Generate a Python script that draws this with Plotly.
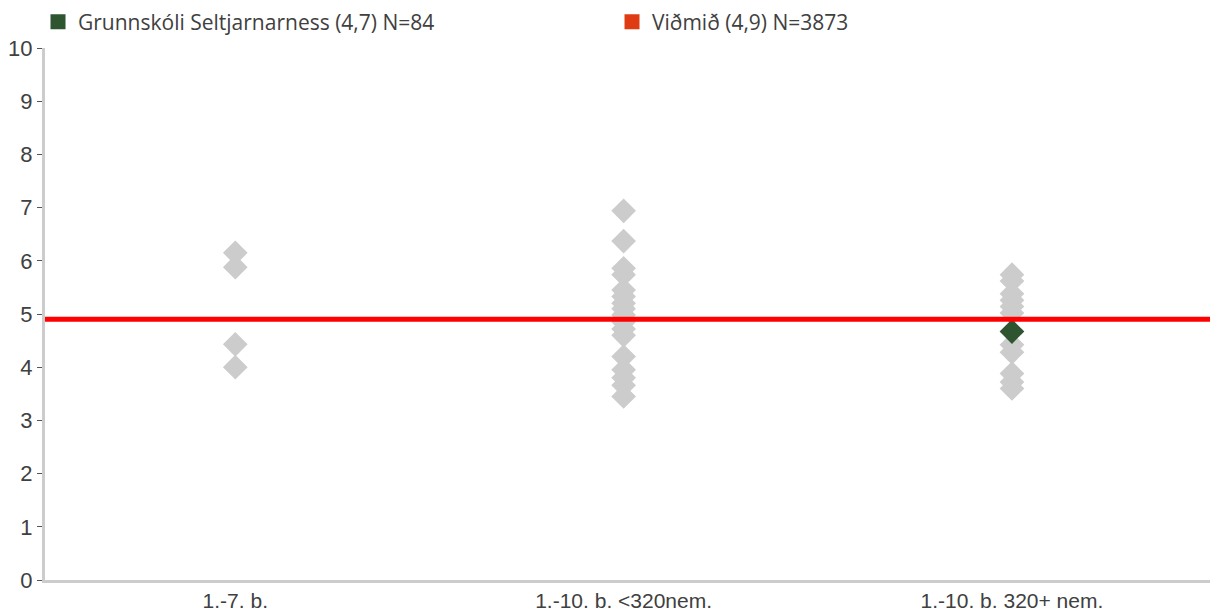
import plotly.graph_objects as go

categories = ["1.-7. b.", "1.-10. b. <320nem.", "1.-10. b. 320+ nem."]
values_cat1 = [6.15, 5.88, 4.43, 4.0]
values_cat2 = [6.94, 6.37, 5.86, 5.74, 5.45, 5.33, 5.2, 5.1, 4.98, 4.85, 4.72, 4.6, 4.2, 3.95, 3.8, 3.66, 3.45]
values_cat3 = [5.74, 5.62, 5.38, 5.26, 5.14, 5.02, 4.42, 4.28, 3.88, 3.72, 3.6]
school_name = "Grunnskóli Seltjarnarness (4,7) N=84"
school_category = "1.-10. b. 320+ nem."
school_value = 4.67
benchmark_name = "Viðmið (4,9) N=3873"
benchmark_value = 4.9
yticks = [0, 1, 2, 3, 4, 5, 6, 7, 8, 9, 10]

grey_x = []
grey_y = []
for cat, vals in zip(categories, [values_cat1, values_cat2, values_cat3]):
    grey_x += [cat] * len(vals)
    grey_y += vals

fig = go.Figure()
fig.add_trace(go.Scatter(
    x=grey_x, y=grey_y, mode="markers", showlegend=False,
    marker=dict(symbol="diamond", size=19, color="#cccccc", line=dict(width=0)),
))
fig.add_trace(go.Scatter(
    x=[school_category], y=[school_value], mode="markers", showlegend=False,
    marker=dict(symbol="diamond", size=19, color="#2e5430", line=dict(width=0)),
))
# legend dummies
fig.add_trace(go.Scatter(
    x=[None], y=[None], mode="markers", name=school_name,
    marker=dict(symbol="square", size=15, color="#2e5430"),
))
fig.add_trace(go.Scatter(
    x=[None], y=[None], mode="markers", name=benchmark_name,
    marker=dict(symbol="square", size=15, color="#e03c14"),
))

fig.add_shape(type="line", xref="paper", x0=0, x1=1, yref="y",
              y0=benchmark_value, y1=benchmark_value,
              line=dict(color="#ff0000", width=5))

# page body has an 8px default margin, so the figure is sized to fit the window
fig.update_layout(
    width=1210, height=604,
    margin=dict(l=37, r=8, t=40, b=32, autoexpand=False),
    paper_bgcolor="white", plot_bgcolor="white",
    font=dict(family="Open Sans, Liberation Sans", color="#404040"),
    legend=dict(
        orientation="h", xref="container", yref="paper",
        x=0.0248, y=1.087, xanchor="left", yanchor="top",
        font=dict(family="Open Sans, Liberation Sans", size=21, color="#404040"),
        entrywidth=529, entrywidthmode="pixels",
        itemsizing="trace", bgcolor="rgba(0,0,0,0)",
    ),
    xaxis=dict(
        type="category", categoryorder="array", categoryarray=categories,
        range=[-0.49, 2.51], showgrid=False, zeroline=False,
        showline=True, linecolor="#cccccc", linewidth=3,
        ticks="", tickfont=dict(family="Liberation Sans Narrow, Liberation Sans", size=21, color="#404040"),
    ),
    yaxis=dict(
        range=[0, 10], tickvals=yticks, showgrid=False, zeroline=False,
        showline=True, linecolor="#cccccc", linewidth=3,
        ticks="outside", ticklen=5, tickcolor="#555555", tickwidth=1,
        tickfont=dict(family="Liberation Sans", size=22, color="#404040"),
    ),
)

fig.write_html("out.html")
